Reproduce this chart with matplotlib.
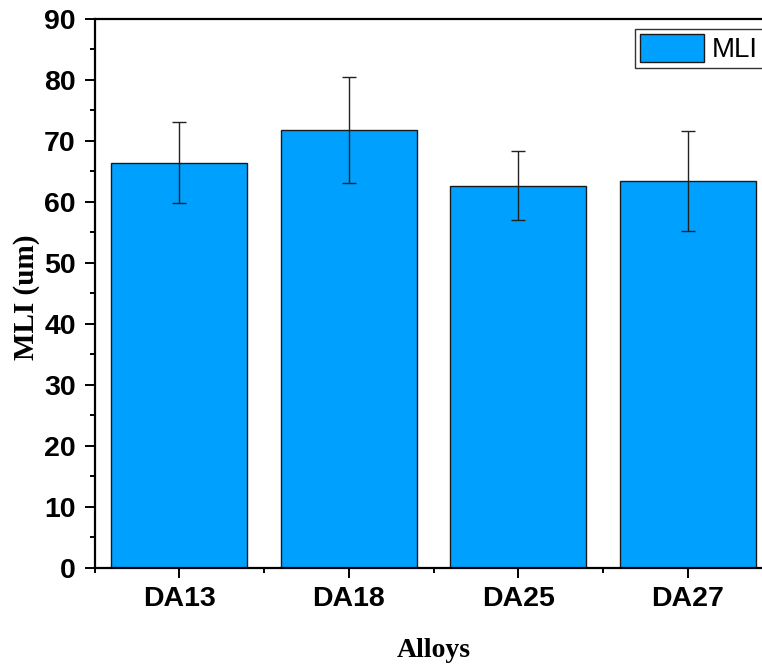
import matplotlib
matplotlib.use("Agg")
import matplotlib.pyplot as plt
from matplotlib.ticker import MultipleLocator, FixedLocator

categories = ["DA13", "DA18", "DA25", "DA27"]
mli = [66.45, 71.75, 62.65, 63.45]
mli_err = [6.7, 8.67, 5.68, 8.17]

W, H = 762, 665
fig = plt.figure(figsize=(W / 100, H / 100), dpi=100)
left, right, top, bottom = 94.5, 772.5, 19.0, 567.7
ax = fig.add_axes([left / W, 1 - bottom / H, (right - left) / W, (bottom - top) / H])

x = list(range(1, len(categories) + 1))
ax.bar(x, mli, width=0.8, color="#00A0FF", edgecolor="#1a1a1a", linewidth=1.0,
       label="MLI", zorder=2)
ax.errorbar(x, mli, yerr=mli_err, fmt="none", ecolor="#222222", elinewidth=1.0,
            capsize=5, capthick=1.0, zorder=3)

ax.set_xlim(0.5, 4.5)
ax.set_ylim(0, 90)
ax.set_xticks(x)
ax.set_xticklabels(categories)
ax.xaxis.set_minor_locator(FixedLocator([0.5, 1.5, 2.5, 3.5, 4.5]))
ax.yaxis.set_major_locator(MultipleLocator(10))
ax.yaxis.set_minor_locator(MultipleLocator(5))

for s in ax.spines.values():
    s.set_linewidth(1.6)
ax.tick_params(axis="both", which="major", direction="out", length=7.5, width=1.4,
               pad=6, labelsize=20.5)
ax.tick_params(axis="both", which="minor", direction="out", length=3.5, width=1.4)
ax.tick_params(top=False, right=False, which="both")
for lab in ax.get_xticklabels() + ax.get_yticklabels():
    lab.set_fontfamily("Liberation Sans")
    lab.set_fontweight("bold")

fig.text(433.5 / W, 1 - 657 / H, "Alloys", fontfamily="Liberation Serif",
         fontweight="bold", fontsize=20, ha="center", va="baseline")
fig.text(27 / W, 1 - 297 / H, "MLI (um)", fontfamily="Liberation Serif",
         fontweight="bold", fontsize=21, ha="center", va="center", rotation=90)

leg = fig.legend(loc="upper left", bbox_to_anchor=(635 / W, 1 - 29 / H),
                 bbox_transform=fig.transFigure,
                 prop={"family": "Liberation Sans", "size": 20},
                 fancybox=False, framealpha=1, edgecolor="#333333",
                 borderpad=0.18, borderaxespad=0, handlelength=2.3, handleheight=1.15,
                 handletextpad=0.3)
leg.get_frame().set_linewidth(1.0)

fig.savefig("out.png", dpi=100)
